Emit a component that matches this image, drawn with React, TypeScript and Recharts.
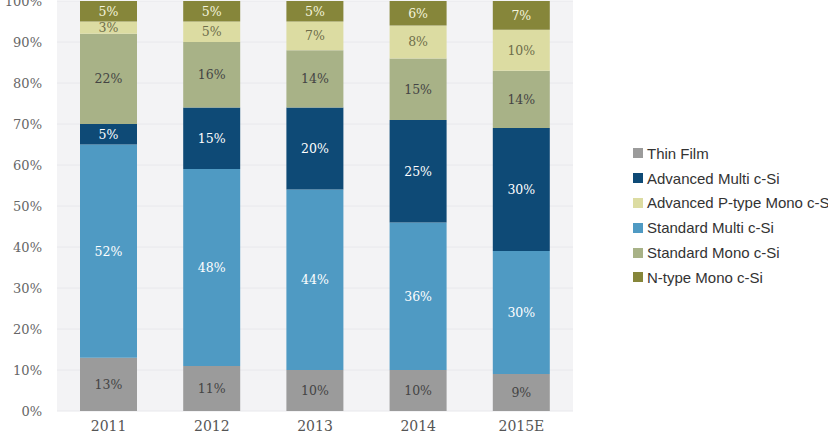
import React from 'react';
import { BarChart, Bar, XAxis, YAxis, CartesianGrid, LabelList, Legend } from 'recharts';

const years = ['2011', '2012', '2013', '2014', '2015E'];
const thinFilm = [13, 11, 10, 10, 9];
const standardMulti = [52, 48, 44, 36, 30];
const advancedMulti = [5, 15, 20, 25, 30];
const standardMono = [22, 16, 14, 15, 14];
const advancedPMono = [3, 5, 7, 8, 10];
const nTypeMono = [5, 5, 5, 6, 7];
const yTicks = [0, 10, 20, 30, 40, 50, 60, 70, 80, 90, 100];

const series = [
  { key: 'thin', name: 'Thin Film', color: '#9b9b9b', text: '#444444', values: thinFilm },
  { key: 'stdMulti', name: 'Standard Multi c-Si', color: '#4f9ac3', text: '#ffffff', values: standardMulti },
  { key: 'advMulti', name: 'Advanced Multi c-Si', color: '#0e4a76', text: '#ffffff', values: advancedMulti },
  { key: 'stdMono', name: 'Standard Mono c-Si', color: '#a8b287', text: '#444444', values: standardMono },
  { key: 'advP', name: 'Advanced P-type Mono c-Si', color: '#dcdca2', text: '#6e6e4a', values: advancedPMono },
  { key: 'nType', name: 'N-type Mono c-Si', color: '#86863a', text: '#f4f4dc', values: nTypeMono },
];

const legendOrder = ['thin', 'advMulti', 'advP', 'stdMulti', 'stdMono', 'nType'];

const data = years.map((y, i) => {
  const row: any = { year: y };
  series.forEach((s) => {
    row[s.key] = s.values[i];
  });
  return row;
});

const serif = '"DejaVu Serif", serif';
const sans = '"Liberation Sans", Arial, sans-serif';

const LegendContent = () => (
  <div style={{ fontFamily: sans, fontSize: 15, color: '#333' }}>
    {legendOrder.map((k) => {
      const s = series.find((x) => x.key === k)!;
      return (
        <div key={k} style={{ display: 'flex', alignItems: 'center', height: 24.8, whiteSpace: 'nowrap' }}>
          <span style={{ display: 'inline-block', width: 10, height: 10, background: s.color, marginRight: 4 }} />
          <span>{s.name}</span>
        </div>
      );
    })}
  </div>
);

export default function App() {
  return (
    <div style={{ width: 828, height: 439, overflow: 'hidden', background: '#fff' }}>
      <style>{`body{margin:0;}`}</style>
      <BarChart
        width={828}
        height={439}
        data={data}
        margin={{ top: 1, right: 255, bottom: 0, left: 0 }}
        barSize={57}
      >
        <CartesianGrid vertical={false} fill="#f3f3f5" stroke="#e8e8ec" />
        <XAxis
          dataKey="year"
          axisLine={false}
          tickLine={false}
          tickSize={0}
          tickMargin={10}
          height={28}
          tick={{ fill: '#555', fontSize: 14, fontFamily: serif }}
        />
        <YAxis
          domain={[0, 100]}
          ticks={yTicks}
          tickFormatter={(v: number) => `${v}%`}
          axisLine={false}
          tickLine={false}
          tickSize={0}
          tickMargin={15}
          width={57}
          tick={{ fill: '#666', fontSize: 13, fontFamily: serif }}
          interval={0}
        />
        <Legend
          layout="horizontal"
          verticalAlign="middle"
          align="center"
          content={<LegendContent />}
          wrapperStyle={{ left: 633, top: 141, width: 200 }}
        />
        {series.map((s) => (
          <Bar key={s.key} dataKey={s.key} name={s.name} stackId="a" fill={s.color} isAnimationActive={false}>
            <LabelList
              dataKey={s.key}
              position="center"
              formatter={(v: any) => `${v}%`}
              fill={s.text}
              fontSize={12.5}
              fontFamily={serif}
            />
          </Bar>
        ))}
      </BarChart>
    </div>
  );
}
